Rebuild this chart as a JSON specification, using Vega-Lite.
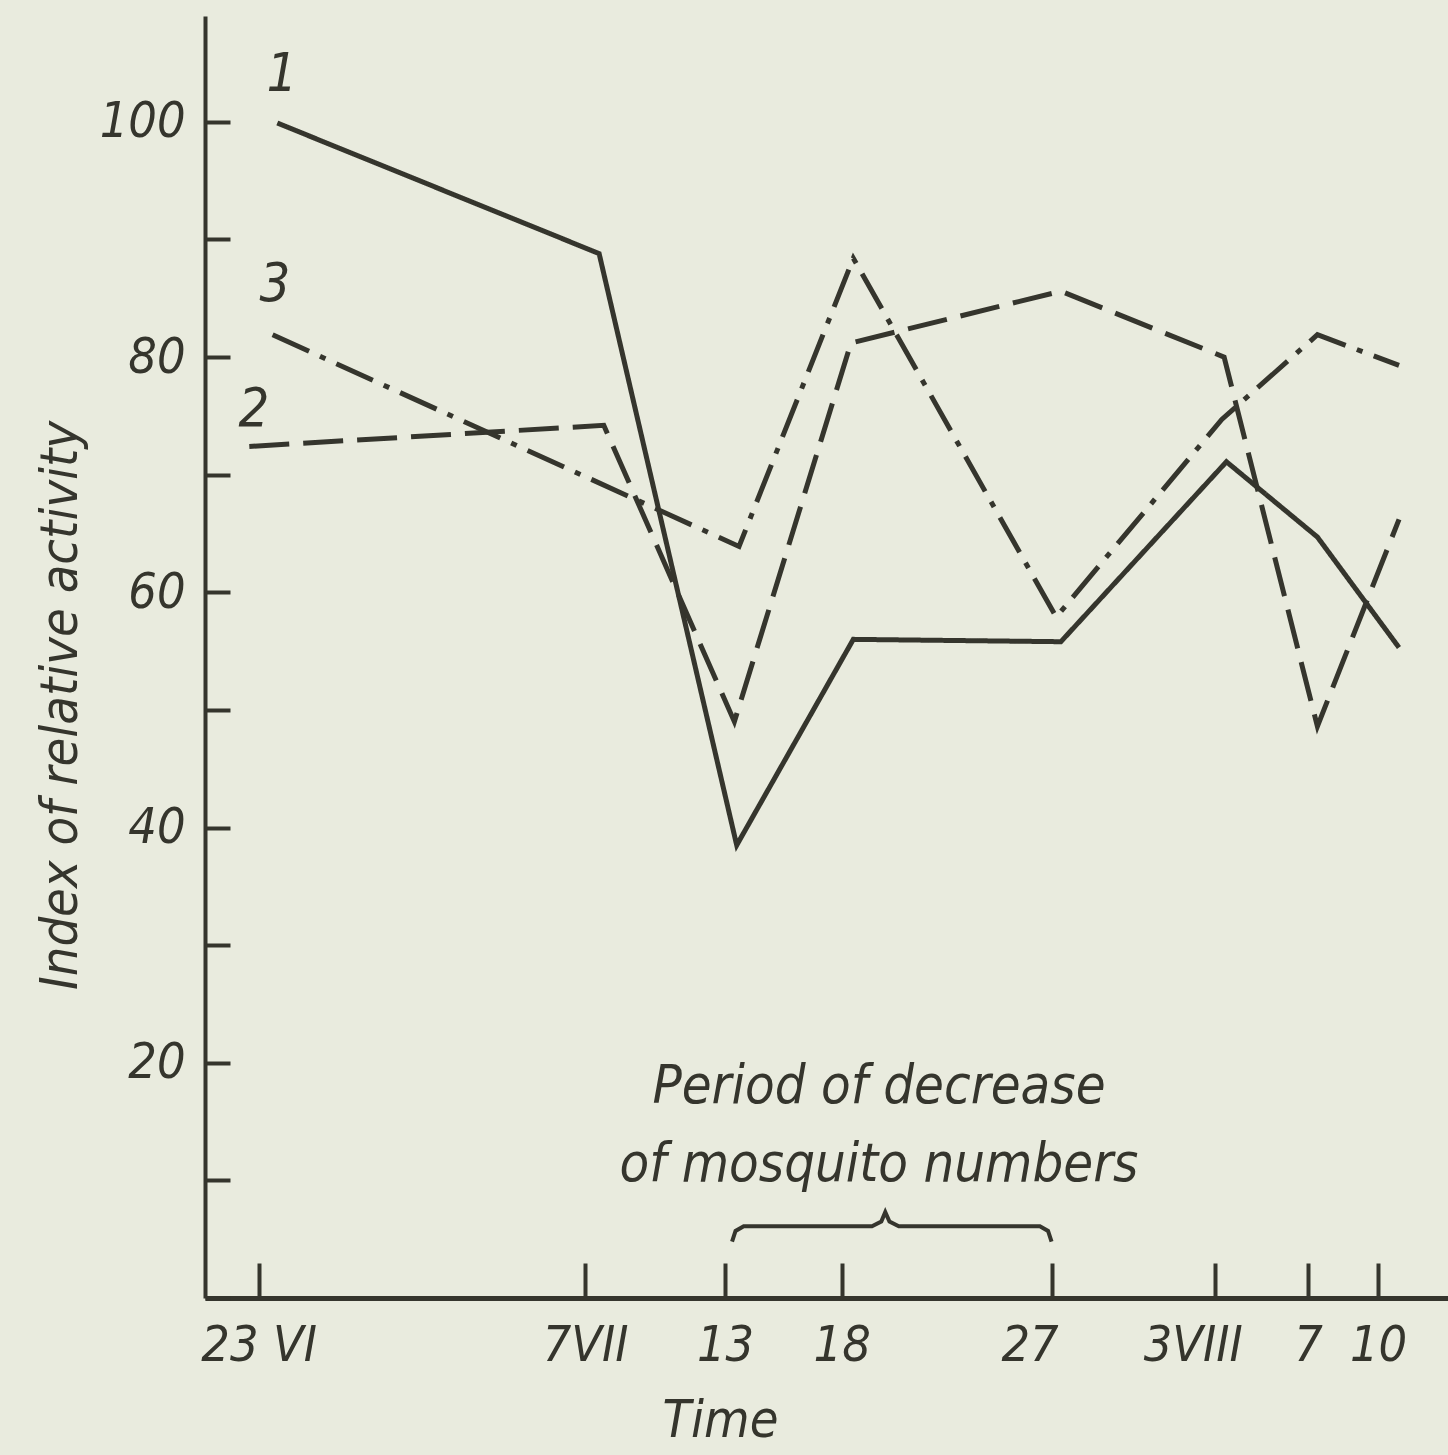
{
  "$schema": "https://vega.github.io/schema/vega-lite/v6.json",
  "width": 1243,
  "height": 1282,
  "autosize": {"type": "none"},
  "padding": {"left": 205, "top": 16, "right": 0, "bottom": 157},
  "background": "#e9ebde",
  "config": {
    "view": {"stroke": null},
    "font": "Liberation Sans Narrow, DejaVu Sans Condensed, sans-serif"
  },
  "layer": [
    {
      "data": {
        "values": [
          {"series": "1", "day": 0.8, "index": 99.9},
          {"series": "1", "day": 14.6, "index": 88.8},
          {"series": "1", "day": 20.5, "index": 38.5},
          {"series": "1", "day": 25.5, "index": 56.0},
          {"series": "1", "day": 34.4, "index": 55.8},
          {"series": "1", "day": 41.5, "index": 71.1},
          {"series": "1", "day": 45.4, "index": 64.7},
          {"series": "1", "day": 48.9, "index": 55.3},
          {"series": "2", "day": -0.4, "index": 72.4},
          {"series": "2", "day": 14.8, "index": 74.2},
          {"series": "2", "day": 20.4, "index": 49.0},
          {"series": "2", "day": 25.4, "index": 81.2},
          {"series": "2", "day": 34.4, "index": 85.6},
          {"series": "2", "day": 41.4, "index": 80.0},
          {"series": "2", "day": 45.4, "index": 48.6},
          {"series": "2", "day": 48.9, "index": 66.2},
          {"series": "3", "day": 0.6, "index": 81.9},
          {"series": "3", "day": 20.6, "index": 63.9},
          {"series": "3", "day": 25.5, "index": 88.4},
          {"series": "3", "day": 34.2, "index": 57.9},
          {"series": "3", "day": 41.3, "index": 74.7},
          {"series": "3", "day": 45.4, "index": 81.9},
          {"series": "3", "day": 48.9, "index": 79.3}
        ]
      },
      "mark": {"type": "line", "strokeWidth": 5, "color": "#35352d", "strokeCap": "butt"},
      "encoding": {
        "x": {
          "field": "day",
          "type": "quantitative",
          "scale": {"domain": [-2.3, 51], "nice": false, "zero": false},
          "axis": {
            "title": "Time",
            "values": [0, 14, 20, 25, 34, 41, 45, 48],
            "labelExpr": "datum.value==0?'23 VI':datum.value==14?'7VII':datum.value==20?'13':datum.value==25?'18':datum.value==34?'27':datum.value==41?'3VIII':datum.value==45?'7':'10'",
            "grid": false,
            "domainColor": "#35352d",
            "domainWidth": 5,
            "tickColor": "#35352d",
            "tickWidth": 4,
            "tickSize": -35,
            "labelPadding": 57,
            "labelFontSize": 50,
            "labelFontStyle": "italic",
            "labelColor": "#35352d",
            "labelFlush": false,
            "labelDx": -15,
            "labelOffset": {"condition": {"test": "datum.value == 41 || datum.value == 34", "value": -22}, "value": 0},
            "labelOverlap": false,
            "titleFontSize": 52,
            "titleFontStyle": "italic",
            "titleFontWeight": "normal",
            "titleColor": "#35352d",
            "titleX": 515,
            "titleY": 97,
            "titleAlign": "center",
            "titleBaseline": "top"
          }
        },
        "y": {
          "field": "index",
          "type": "quantitative",
          "scale": {"domain": [0, 109], "nice": false},
          "axis": {
            "title": "Index of relative activity",
            "values": [0, 10, 20, 30, 40, 50, 60, 70, 80, 90, 100],
            "labelExpr": "datum.value>0 && datum.value%20==0 ? datum.value : ''",
            "grid": false,
            "domainColor": "#35352d",
            "domainWidth": 4,
            "tickColor": "#35352d",
            "tickWidth": 4,
            "tickSize": -25,
            "labelPadding": 45,
            "labelFontSize": 50,
            "labelFontStyle": "italic",
            "labelColor": "#35352d",
            "labelFlush": false,
            "labelOverlap": false,
            "titleFontSize": 52,
            "titleFontStyle": "italic",
            "titleFontWeight": "normal",
            "titleColor": "#35352d",
            "titleX": -145,
            "titleY": 689,
            "titleAlign": "center",
            "titleBaseline": "middle"
          }
        },
        "strokeDash": {
          "field": "series",
          "type": "nominal",
          "scale": {"domain": ["1", "2", "3"], "range": [[1, 0], [40, 14], [40, 12, 6, 12]]},
          "legend": null
        }
      }
    },
    {
      "data": {
        "values": [
          {"day": 20.3, "index": 4.8},
          {"day": 20.45, "index": 5.7},
          {"day": 20.8, "index": 6.1},
          {"day": 26.3, "index": 6.1},
          {"day": 26.7, "index": 6.5},
          {"day": 26.87, "index": 7.3},
          {"day": 27.05, "index": 6.5},
          {"day": 27.45, "index": 6.1},
          {"day": 33.5, "index": 6.1},
          {"day": 33.85, "index": 5.7},
          {"day": 34.0, "index": 4.8}
        ]
      },
      "mark": {"type": "line", "strokeWidth": 4, "color": "#35352d"},
      "encoding": {
        "x": {"field": "day", "type": "quantitative"},
        "y": {"field": "index", "type": "quantitative"}
      }
    },
    {
      "data": {
        "values": [
          {"label": "1", "day": 1.0, "index": 104},
          {"label": "3", "day": 0.7, "index": 86.1},
          {"label": "2", "day": -0.2, "index": 75.5}
        ]
      },
      "mark": {"type": "text", "fontSize": 54, "fontStyle": "italic", "color": "#35352d", "align": "center", "baseline": "middle"},
      "encoding": {
        "x": {"field": "day", "type": "quantitative"},
        "y": {"field": "index", "type": "quantitative"},
        "text": {"field": "label"}
      }
    },
    {
      "data": {
        "values": [
          {"note": "Period of decrease", "day": 26.6, "index": 17.9},
          {"note": "of mosquito numbers", "day": 26.6, "index": 11.3}
        ]
      },
      "mark": {"type": "text", "fontSize": 54, "fontStyle": "italic", "color": "#35352d", "align": "center", "baseline": "middle"},
      "encoding": {
        "x": {"field": "day", "type": "quantitative"},
        "y": {"field": "index", "type": "quantitative"},
        "text": {"field": "note"}
      }
    }
  ]
}
